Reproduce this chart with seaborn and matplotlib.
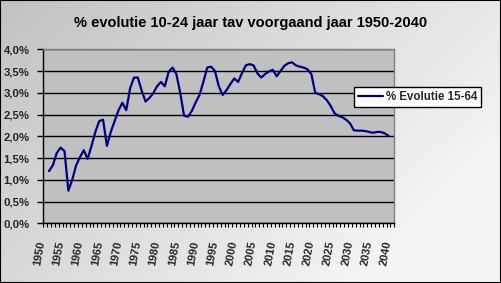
import numpy as np
import pandas as pd
import matplotlib
matplotlib.use("Agg")
import matplotlib.pyplot as plt
import matplotlib.transforms as mtransforms
from matplotlib.patches import Rectangle
import seaborn as sns

title = "% evolutie 10-24 jaar tav voorgaand jaar 1950-2040"
series_name = "% Evolutie 15-64"
years = list(range(1951, 2040))
values = [
    1.20, 1.34, 1.62, 1.74, 1.66, 0.75, 1.00, 1.33, 1.52,          # 1951-1959
    1.68, 1.48, 1.78, 2.10, 2.35, 2.38, 1.78, 2.10, 2.35, 2.60,    # 1960-1969
    2.77, 2.60, 3.10, 3.35, 3.35, 3.05, 2.80, 2.88, 2.99, 3.15,    # 1970-1979
    3.25, 3.15, 3.48, 3.58, 3.43, 3.00, 2.47, 2.45, 2.58, 2.78,    # 1980-1989
    2.95, 3.25, 3.58, 3.60, 3.50, 3.15, 2.95, 3.06, 3.20, 3.33,    # 1990-1999
    3.25, 3.45, 3.63, 3.66, 3.63, 3.45, 3.35, 3.43, 3.49, 3.53,    # 2000-2009
    3.38, 3.50, 3.62, 3.68, 3.70, 3.63, 3.60, 3.58, 3.54, 3.43,    # 2010-2019
    3.00, 2.97, 2.92, 2.83, 2.70, 2.53, 2.47, 2.44, 2.38, 2.30,    # 2020-2029
    2.14, 2.13, 2.13, 2.12, 2.10, 2.08, 2.10, 2.10, 2.07, 2.01,    # 2030-2039
]
xtick_labels = [str(y) for y in range(1950, 2041, 5)]
ytick_values = [0.0, 0.5, 1.0, 1.5, 2.0, 2.5, 3.0, 3.5, 4.0]

df = pd.DataFrame({"jaar": years, "waarde": values})

sns.set_theme(style="white")
plt.rcParams["font.family"] = ["Liberation Sans", "DejaVu Sans"]

fig = plt.figure(figsize=(5.01, 2.83), dpi=100)

# gradient background
bg = fig.add_axes([0, 0, 1, 1], zorder=-10)
gx = np.linspace(0, 1, 200)
gy = np.linspace(0, 1, 120)
GX, GY = np.meshgrid(gx, gy)
G = 0.76 + 0.20 * np.clip(0.75 * GX + 0.45 * GY, 0, 1)
bg.imshow(np.dstack([G, G, G]), aspect="auto", extent=[0, 1, 0, 1], origin="upper")
bg.set_axis_off()

L, R, B, T = 43.3 / 501, 394.3 / 501, 1 - 223.3 / 283, 1 - 49.3 / 283
ax = fig.add_axes([L, B, R - L, T - B])
ax.set_facecolor("#c0c0c0")

sns.lineplot(data=df, x="jaar", y="waarde", ax=ax, color="#000080",
             linewidth=1.6, label=series_name, legend=False)

ax.set_xlim(1949.5, 2040.5)
ax.set_ylim(0, 4.0)
ax.set_xlabel("")
ax.set_ylabel("")

ax.set_yticks(ytick_values)
ax.set_yticklabels([f"{v:.1f}%".replace(".", ",") for v in ytick_values],
                   fontsize=8.2, fontweight="bold")
ax.yaxis.grid(True, color="black", linewidth=1.0)
ax.xaxis.grid(False)
ax.tick_params(axis="y", direction="out", length=4, width=1, color="black", pad=6, left=True)

ax.set_xticks(list(range(1950, 2041, 5)))
ax.set_xticklabels(xtick_labels, fontsize=8, fontweight="bold", rotation=80,
                   ha="right", va="center", rotation_mode="anchor")
ax.set_xticks(np.arange(1949.5, 2041, 1.0), minor=True)
ax.tick_params(axis="x", which="major", length=0, pad=13)
ax.tick_params(axis="x", which="minor", direction="out", length=3, width=0.8,
               color="black", bottom=True)
offset = mtransforms.ScaledTranslation(-4 / 100, 0, fig.dpi_scale_trans)
for lbl in ax.get_xticklabels():
    lbl.set_transform(lbl.get_transform() + offset)

for side in ["top", "right"]:
    ax.spines[side].set_color("#808080")
    ax.spines[side].set_linewidth(1.0)
for side in ["left", "bottom"]:
    ax.spines[side].set_color("black")
    ax.spines[side].set_linewidth(1.0)
ax.set_axisbelow(True)

fig.text(0.5, 1 - 23 / 283, title, ha="center", va="center",
         fontsize=10.5, fontweight="bold", color="black")

handles, labels = ax.get_legend_handles_labels()
leg = fig.legend(handles, labels, loc="upper left",
                 bbox_to_anchor=(354 / 501, 1 - 86.7 / 283),
                 frameon=True, fancybox=False, framealpha=1,
                 edgecolor="black", facecolor="white",
                 prop={"size": 8.3, "weight": "bold"},
                 handlelength=2.2, handletextpad=0.2, borderpad=0.35,
                 borderaxespad=0)
leg.get_frame().set_linewidth(1.0)

fig.patches.append(Rectangle((0, 0), 1, 1, transform=fig.transFigure,
                             fill=False, edgecolor="black", linewidth=1.5))

fig.savefig("out.png", dpi=100)
